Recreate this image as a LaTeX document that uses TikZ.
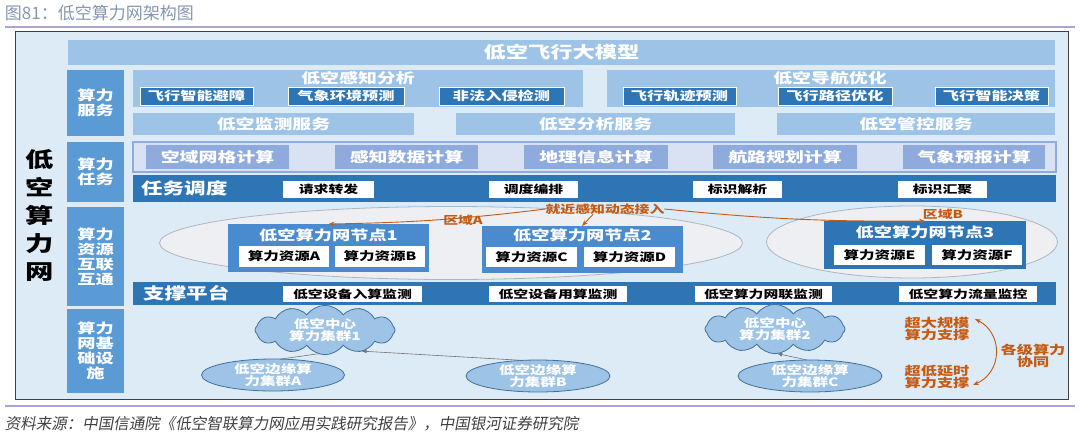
\documentclass[tikz,border=0pt]{standalone}
\usepackage{fontspec}
\setmainfont{Noto Sans CJK SC}
\newfontfamily\dfont[FakeStretch=1.35]{Noto Sans CJK SC}
\newfontfamily\srcfont[FakeSlant=0.18]{Noto Sans CJK SC}
\usetikzlibrary{shapes.symbols,shapes.geometric,arrows.meta}
\definecolor{frameFill}{HTML}{DDEBF7}
\definecolor{lblue}{HTML}{9DC3E6}
\definecolor{mblue}{HTML}{5B9BD5}
\definecolor{dblue}{HTML}{2E75B6}
\definecolor{nblue}{HTML}{4A8BD0}
\definecolor{tpanel}{HTML}{D9E2F3}
\definecolor{tborder}{HTML}{8FAADC}
\definecolor{orangeC}{HTML}{C55A11}
\definecolor{ellFill}{HTML}{EDEFF3}
\definecolor{ellDraw}{HTML}{B0B5BD}
\definecolor{cloudDraw}{HTML}{41719C}
\definecolor{titleC}{HTML}{8497B0}
\definecolor{lineC}{HTML}{A9A4D6}
\definecolor{bandDraw}{HTML}{7F8FA6}
\newcommand\fz[2]{\fontsize{#1}{#2}\selectfont}
\newcommand\mybox[7]{\node[#1,minimum width={#5-#3},minimum height={#6-#4}] (#2) at ({(#3+#5)/2},{(#4+#6)/2}) {#7};}
\tikzset{
  base/.style={inner sep=0pt, outer sep=0pt, align=center},
  frm/.style={base, fill=frameFill, draw=black!75, line width=1pt},
  banner/.style={base, fill=lblue, text=white, font=\dfont\bfseries\fz{16.5}{18}},
  panel/.style={base, fill=lblue},
  ptitle/.style={base, text=white, font=\dfont\bfseries\fz{14}{16}},
  svc/.style={base, fill=lblue, text=white, font=\dfont\bfseries\fz{14}{16}},
  cat/.style={base, fill=mblue, text=white, font=\dfont\bfseries\fz{13.5}{15}},
  sub/.style={base, fill=dblue, draw=white, line width=0.8pt, text=white, font=\dfont\bfseries\fz{12}{14}},
  tpan/.style={base, fill=tpanel, draw=tborder, line width=1.2pt},
  tbox/.style={base, fill=tborder, text=white, font=\dfont\bfseries\fz{14}{16}},
  bar/.style={base, fill=dblue},
  bartitle/.style={base, anchor=west, text=white, font=\dfont\bfseries\fz{16}{18}},
  wbox/.style={base, fill=white, text=black, font=\dfont\bfseries\fz{11}{13}},
  region/.style={base, ellipse, fill=ellFill, draw=ellDraw, line width=0.8pt},
  cnode1/.style={base, fill=nblue},
  cnode3/.style={base, fill=dblue},
  ntitle/.style={base, text=white, font=\dfont\bfseries\fz{13.5}{15}},
  rbox/.style={base, fill=white, text=black, font=\dfont\bfseries\fz{11.5}{13}},
  olabel/.style={base, text=orangeC, font=\dfont\bfseries\fz{11}{13}},
  oarrow/.style={draw=orangeC, line width=0.9pt, -{Stealth[length=6pt,width=4.5pt]}},
  band/.style={base, fill=frameFill, draw=bandDraw, line width=0.6pt, double=frameFill, double distance=1.2pt},
  cld/.style={base, cloud, cloud puffs=12, cloud puff arc=110, aspect=3.8, fill=lblue, draw=cloudDraw, line width=0.8pt, text=white, font=\dfont\bfseries\fz{11.5}{12.5}},
  edge/.style={base, ellipse, fill=lblue, draw=cloudDraw, line width=0.8pt, text=white, font=\dfont\bfseries\fz{11.5}{11.5}},
  link/.style={draw=black!55, line width=0.6pt},
  blink/.style={draw=black!55, line width=0.6pt, -{Latex[length=5pt,width=4pt]}},
  rtext/.style={base, text=orangeC, font=\dfont\bfseries\fz{12}{12.5}},
}
\begin{document}
\begin{tikzpicture}[x=1pt,y=-1pt]
\useasboundingbox (0,0) rectangle (1080,440);
% title and source
\node[base, anchor=west, text=titleC, font=\fz{17}{19}] (title) at (5,13) {图81：低空算力网架构图};
\draw[lineC, line width=1.4pt] (5,27) -- (1075,27);
\draw[lineC, line width=1.4pt] (5,406) -- (1075,406);
\node[base, anchor=west, text=black!75, font=\srcfont\fz{15.5}{17}] (source) at (5,424) {资料来源：中国信通院《低空智联算力网应用实践研究报告》，中国银河证券研究院};
% frame
\mybox{frm}{frame}{15}{31}{1068}{399}{}
\node[base, font=\dfont\bfseries\fz{21}{28}] (big) at (40,215) {低\\空\\算\\力\\网};
% top banner
\mybox{banner}{llm}{68}{40}{1055}{65}{低空飞行大模型}
% categories
\mybox{cat}{cat1}{67}{70}{124}{136}{算力\\服务}
\mybox{cat}{cat2}{67}{142}{124}{202}{算力\\任务}
\mybox{cat}{cat3}{67}{207}{124}{306}{算力\\资源\\互联\\互通}
\mybox{cat}{cat4}{67}{309}{124}{393}{算力\\网基\\础设\\施}
% service panels
\mybox{panel}{p1}{133}{70}{583}{107}{}
\node[ptitle] (p1t) at (358,78) {低空感知分析};
\mybox{sub}{s1}{140}{87}{253}{105}{飞行智能避障}
\mybox{sub}{s2}{288}{87}{404}{105}{气象环境预测}
\mybox{sub}{s3}{439}{87}{564}{105}{非法入侵检测}
\mybox{panel}{p2}{607}{70}{1055}{107}{}
\node[ptitle] (p2t) at (830,78) {低空导航优化};
\mybox{sub}{s4}{623}{87}{736}{105}{飞行轨迹预测}
\mybox{sub}{s5}{778}{87}{892}{105}{飞行路径优化}
\mybox{sub}{s6}{935}{87}{1048}{105}{飞行智能决策}
\mybox{svc}{v1}{133}{113}{414}{135}{低空监测服务}
\mybox{svc}{v2}{456}{113}{735}{135}{低空分析服务}
\mybox{svc}{v3}{777}{113}{1055}{135}{低空管控服务}
% tasks
\mybox{tpan}{tp}{133}{142}{1056}{172}{}
\mybox{tbox}{t1}{146}{145}{289}{169}{空域网格计算}
\mybox{tbox}{t2}{335}{145}{478}{169}{感知数据计算}
\mybox{tbox}{t3}{524}{145}{668}{169}{地理信息计算}
\mybox{tbox}{t4}{713}{145}{857}{169}{航路规划计算}
\mybox{tbox}{t5}{903}{145}{1045}{169}{气象预报计算}
\mybox{bar}{sched}{133}{175}{1056}{202}{}
\node[bartitle] (schedt) at (141,188.5) {任务调度};
\mybox{wbox}{w1}{283}{181}{374}{198}{请求转发}
\mybox{wbox}{w2}{489}{181}{578}{198}{调度编排}
\mybox{wbox}{w3}{693}{181}{782}{198}{标识解析}
\mybox{wbox}{w4}{898}{181}{987}{198}{标识汇聚}
% regions
\node[region, minimum width=583, minimum height=73] (regA) at (451,243) {};
\node[region, minimum width=291, minimum height=72] (regB) at (912,242) {};
% compute nodes
\mybox{cnode1}{n1}{228}{224}{429}{272}{}
\node[ntitle] (n1t) at (328.5,235) {低空算力网节点1};
\mybox{rbox}{ra}{239}{246}{329}{267}{算力资源A}
\mybox{rbox}{rb}{335}{246}{425}{267}{算力资源B}
\mybox{cnode1}{n2}{482}{226}{683}{273}{}
\node[ntitle] (n2t) at (582.5,235) {低空算力网节点2};
\mybox{rbox}{rc}{486}{247}{577}{267}{算力资源C}
\mybox{rbox}{rd}{584}{247}{675}{267}{算力资源D}
\mybox{cnode3}{n3}{824}{221}{1026}{269}{}
\node[ntitle] (n3t) at (925,232) {低空算力网节点3};
\mybox{rbox}{re}{834}{245}{925}{265}{算力资源E}
\mybox{rbox}{rf}{932}{245}{1022}{265}{算力资源F}
% orange access arrows
\node[olabel] (jin) at (605,209) {就近感知动态接入};
\node[olabel] (zoneA) at (463,220) {区域A};
\node[olabel] (zoneB) at (943,214) {区域B};
\draw[oarrow] (jin.west) to[bend left=3] (n1.north);
\draw[oarrow] (jin.east) to[bend right=3] (n3.north);
\draw[oarrow] ([xshift=-12pt]jin.south) -- ([xshift=-0.5pt]n2.north);
% support platform
\mybox{bar}{sup}{133}{282}{1056}{305}{}
\node[bartitle] (supt) at (143,293.5) {支撑平台};
\mybox{wbox}{m1}{283}{286}{422}{302}{低空设备入算监测}
\mybox{wbox}{m2}{489}{286}{627}{302}{低空设备用算监测}
\mybox{wbox}{m3}{695}{286}{832}{302}{低空算力网联监测}
\mybox{wbox}{m4}{899}{286}{1037}{302}{低空算力流量监控}
% infrastructure
\mybox{band}{band1}{137}{308}{895}{350}{}
\mybox{band}{band2}{137}{355}{895}{394}{}
\node[cld, minimum width=140, minimum height=34] (c1) at (325,330) {低空中心\\算力集群1};
\node[cld, minimum width=140, minimum height=34] (c2) at (775,329) {低空中心\\算力集群2};
\node[edge, minimum width=143, minimum height=30] (eA) at (273,375) {低空边缘算\\力集群A};
\node[edge, minimum width=144, minimum height=31] (eB) at (538,376) {低空边缘算\\力集群B};
\node[edge, minimum width=144, minimum height=31] (eC) at (810,376) {低空边缘算\\力集群C};
\draw[link] (eA.65) -- (c1.255);
\draw[blink] (eB.135) -- (c1.-30);
\draw[blink] (eC.100) -- (c2.-85);
% right side
\node[rtext] (big1) at (937,329) {超大规模\\算力支撑};
\node[rtext] (low1) at (937,377) {超低延时\\算力支撑};
\node[rtext] (coop) at (1033,356) {各级算力\\协同};
\coordinate (ct) at (975,319);
\coordinate (cb) at (973,385);
\draw[draw=orangeC, line width=0.9pt, {Stealth[length=6pt,width=4.5pt]}-{Stealth[length=6pt,width=4.5pt]}] (ct) .. controls (1003,333) and (1003,372) .. (cb);
\end{tikzpicture}
\end{document}
